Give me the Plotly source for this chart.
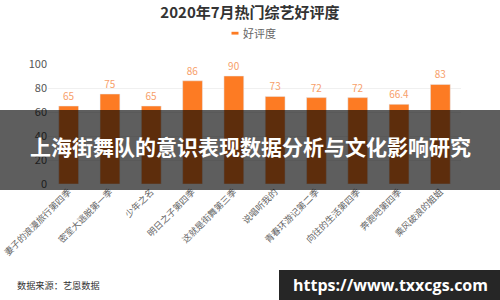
import plotly.graph_objects as go

categories = ["妻子的浪漫旅行第四季", "密室大逃脱第一季", "少年之名", "明日之子第四季", "这就是街舞第三季",
              "说唱听我的", "青春环游记第二季", "向往的生活第四季", "奔跑吧第四季", "乘风破浪的姐姐"]
values = [65, 75, 65, 86, 90, 73, 72, 72, 66.4, 83]
value_labels = ["65", "75", "65", "86", "90", "73", "72", "72", "66.4", "83"]
y_ticks = [0, 20, 40, 60, 80, 100]

L, R, T, B = 48, 39, 64, 116
W, H = 500, 300
pw, ph = W - L - R, H - T - B

def px(x):
    return (x - L) / pw

def py(y):
    return (H - B - y) / ph

font = "Noto Sans CJK SC"

fig = go.Figure()
fig.add_trace(go.Bar(
    x=categories, y=values, name="好评度",
    marker=dict(color="#fd7b23"), width=0.48,
    text=value_labels, textposition="outside",
    textfont=dict(color="#f7a06a", size=10, family=font),
    cliponaxis=False, showlegend=False,
))

fig.update_layout(
    width=W, height=H,
    margin=dict(l=L, r=R, t=T, b=B, autoexpand=False),
    paper_bgcolor="white", plot_bgcolor="white",
    font=dict(family=font, color="#666"),
    title=dict(text="<b>2020年7月热门综艺好评度</b>", x=0.5, xanchor="center",
               y=1 - 13 / H, yanchor="middle",
               font=dict(size=15, color="#333", family=font)),
    showlegend=False,
    xaxis=dict(tickangle=-45, tickfont=dict(size=9, color="#666", family=font),
               showline=False, ticks="", showgrid=False, automargin=False),
    yaxis=dict(range=[0, 100], tickvals=y_ticks, tickfont=dict(size=11, color="#555", family=font),
               showgrid=True, gridcolor="#f0f0f0", zeroline=False, showline=False, ticks="",
               automargin=False),
)

# legend (drawn)
fig.add_shape(type="rect", xref="paper", yref="paper",
              x0=px(231.5), x1=px(238.5), y0=py(31.8), y1=py(34.6),
              fillcolor="#fd7b23", line=dict(width=0))
fig.add_annotation(xref="paper", yref="paper", x=px(240.5), y=py(33), xanchor="left", yanchor="middle",
                   text="好评度", showarrow=False,
                   font=dict(size=11, color="#666", family=font))

# dark overlay band
fig.add_shape(type="rect", xref="paper", yref="paper",
              x0=px(0), x1=px(500), y0=py(110), y1=py(190),
              fillcolor="rgba(0,0,0,0.63)", line=dict(width=0), layer="above")
fig.add_annotation(xref="paper", yref="paper", x=px(250), y=py(146), xanchor="center", yanchor="middle",
                   text="<b>上海街舞队的意识表现数据分析与文化影响研究</b>", showarrow=False,
                   font=dict(size=21, color="white", family=font))

# data source
fig.add_annotation(xref="paper", yref="paper", x=px(15), y=py(285), xanchor="left", yanchor="middle",
                   text="数据来源：艺恩数据", showarrow=False,
                   font=dict(size=9.2, color="#333", family=font))

# bottom watermark box
fig.add_shape(type="rect", xref="paper", yref="paper",
              x0=px(279), x1=px(500), y0=py(270), y1=py(300),
              fillcolor="#262626", line=dict(width=0), layer="above")
fig.add_annotation(xref="paper", yref="paper", x=px(390), y=py(285), xanchor="center", yanchor="middle",
                   text="<b>https://www.txxcgs.com</b>", showarrow=False,
                   font=dict(size=16, color="white", family="Open Sans"))

fig.write_html("out.html")
